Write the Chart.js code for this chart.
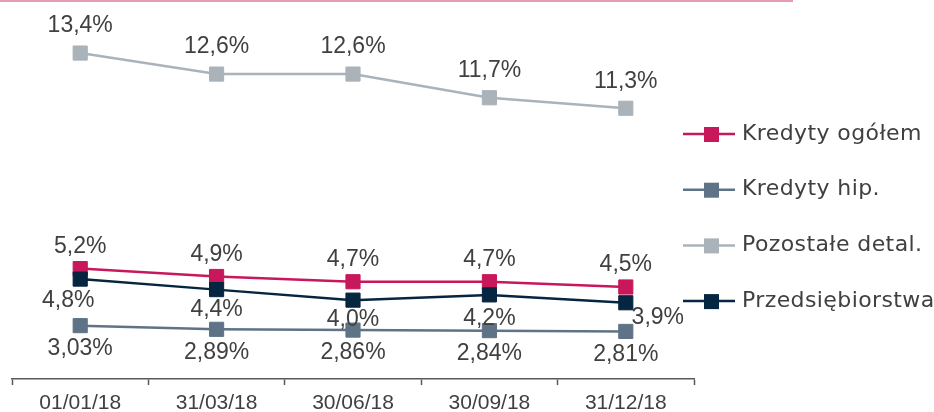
<!DOCTYPE html>
<html lang="pl">
<head>
  <meta charset="UTF-8">
  <title>Wskaźniki</title>
  <script src="https://cdn.jsdelivr.net/npm/chart.js"></script>
  <style>
    body {
      margin: 0;
      background: #fff;
    }
    #wrap {
      width: 934px;
      height: 412px;
      position: relative;
    }
  </style>
</head>
<body>
  <div id="wrap">
    <canvas id="chart"></canvas>
  </div>

  <script>
    const categories = ['01/01/18', '31/03/18', '30/06/18', '30/09/18', '31/12/18'];
    const kredytyOgolem = [5.2, 4.9, 4.7, 4.7, 4.5];
    const kredytyHip = [3.03, 2.89, 2.86, 2.84, 2.81];
    const pozostaleDetal = [13.4, 12.6, 12.6, 11.7, 11.3];
    const przedsiebiorstwa = [4.8, 4.4, 4.0, 4.2, 3.9];
    const seriesNames = ['Kredyty ogółem', 'Kredyty hip.', 'Pozostałe detal.', 'Przedsiębiorstwa'];

    const textColor = '#404040';

    function fmt(v, dec) {
      return v.toFixed(dec).replace('.', ',') + '%';
    }

    function makeSet(label, data, color, extra) {
      return Object.assign({
        label: label,
        data: data,
        borderColor: color,
        backgroundColor: color,
        borderWidth: 2.5,
        pointStyle: 'rect',
        pointRadius: 10,
        pointHoverRadius: 10,
        pointBorderWidth: 1,
        pointBorderColor: color,
        fill: false,
        tension: 0
      }, extra);
    }

    // labels drawn next to every point
    const pointLabels = {
      id: 'pointLabels',
      afterDatasetsDraw(chart) {
        const ctx = chart.ctx;
        ctx.save();
        ctx.font = '23px "Liberation Sans", Arial, sans-serif';
        ctx.fillStyle = textColor;
        ctx.textAlign = 'center';
        ctx.textBaseline = 'middle';
        chart.data.datasets.forEach((ds, i) => {
          const meta = chart.getDatasetMeta(i);
          meta.data.forEach((pt, j) => {
            let dx = 0, dy = ds.labelDy;
            if (ds.labelShift && ds.labelShift[j]) {
              dx = ds.labelShift[j][0];
              dy = ds.labelShift[j][1];
            }
            ctx.fillText(fmt(ds.data[j], ds.decimals), pt.x + dx, pt.y + dy);
          });
        });
        ctx.restore();
      }
    };

    // legend on the right: line with square marker
    const sideLegend = {
      id: 'sideLegend',
      afterDraw(chart) {
        const ctx = chart.ctx;
        const area = chart.chartArea;
        const x0 = area.right - 11;
        let y = area.top + 123;
        ctx.save();
        ctx.font = '22px "DejaVu Sans", sans-serif';
        ctx.letterSpacing = '0.4px';
        ctx.textBaseline = 'middle';
        ctx.textAlign = 'left';
        chart.data.datasets.forEach((ds) => {
          ctx.strokeStyle = ds.borderColor;
          ctx.lineWidth = 2.5;
          ctx.beginPath();
          ctx.moveTo(x0, y);
          ctx.lineTo(x0 + 52, y);
          ctx.stroke();
          ctx.fillStyle = ds.borderColor;
          ctx.fillRect(x0 + 21, y - 7, 15, 15);
          ctx.fillStyle = textColor;
          ctx.fillText(ds.label, x0 + 59, y);
          y += 55.7;
        });
        ctx.restore();
      }
    };

    // thin pink rule at the very top
    const topRule = {
      id: 'topRule',
      beforeDraw(chart) {
        const ctx = chart.ctx;
        ctx.save();
        ctx.strokeStyle = '#e89ab5';
        ctx.lineWidth = 2;
        ctx.beginPath();
        ctx.moveTo(0, 1);
        ctx.lineTo(793, 1);
        ctx.stroke();
        ctx.restore();
      }
    };

    const ctx = document.getElementById('chart').getContext('2d');
    const chart = new Chart(ctx, {
      type: 'line',
      data: {
        labels: categories,
        datasets: [
          makeSet(seriesNames[0], kredytyOgolem, '#c8175a', { decimals: 1, labelDy: -22, order: 1 }),
          makeSet(seriesNames[1], kredytyHip, '#5f7387', { decimals: 2, labelDy: 23, order: 2 }),
          makeSet(seriesNames[2], pozostaleDetal, '#aab2ba', { decimals: 1, labelDy: -27, order: 3 }),
          makeSet(seriesNames[3], przedsiebiorstwa, '#062541', {
            decimals: 1, labelDy: 20, order: 0,
            labelShift: [[-12, 22], null, null, [0, 24], [32, 15]]
          })
        ]
      },
      plugins: [topRule, pointLabels, sideLegend],
      options: {
        responsive: true,
        maintainAspectRatio: false,
        animation: false,
        layout: {
          padding: { left: 12, right: 240, top: 2, bottom: 0 }
        },
        plugins: {
          legend: { display: false },
          tooltip: { enabled: false }
        },
        scales: {
          x: {
            offset: true,
            grid: {
              offset: true,
              drawOnChartArea: false,
              drawTicks: true,
              tickLength: 6,
              tickWidth: 1.5,
              tickColor: '#595959'
            },
            border: { color: '#595959', width: 1.5 },
            ticks: {
              color: textColor,
              padding: 6,
              font: { family: '"Liberation Sans", Arial, sans-serif', size: 21 }
            },
            afterFit(scale) {
              scale.height = 33;
            }
          },
          y: {
            display: false,
            min: 1,
            max: 15
          }
        }
      }
    });
  </script>
</body>
</html>
